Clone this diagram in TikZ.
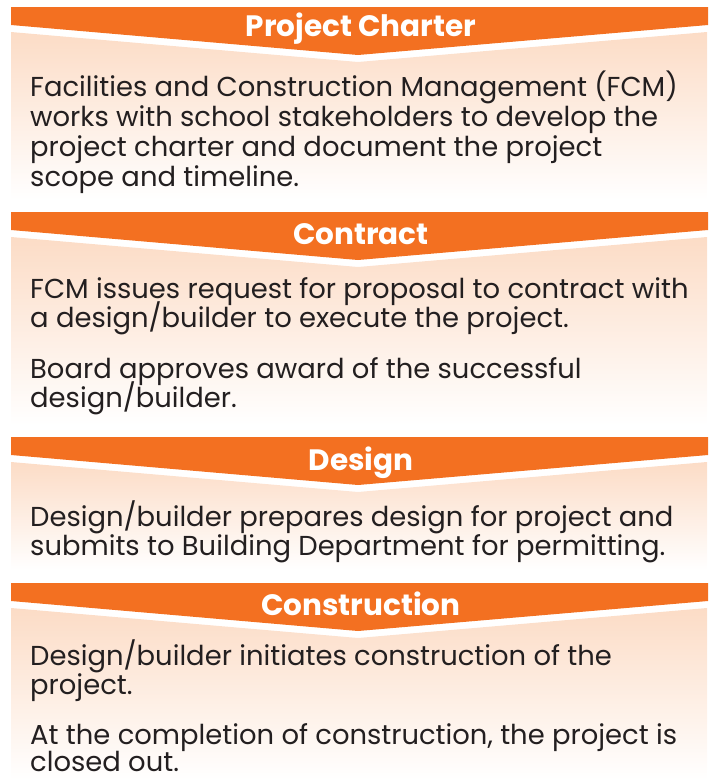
\documentclass[tikz,border=0pt]{standalone}
\usepackage{fontspec}
\setmainfont{Poppins}
\definecolor{bandorange}{RGB}{243,112,33}
\definecolor{peach}{RGB}{252,220,198}
\definecolor{bodytext}{RGB}{35,31,32}
\newcommand\bandsec[2]{%
  \shade[top color=peach, bottom color=white] (11,#1+25) -- (358,#1+55) -- (707,#1+25) -- (707,#2) -- (11,#2) -- cycle;
  \fill[bandorange] (11,#1) -- (708,#1) -- (708,#1+18) -- (358,#1+48) -- (11,#1+18) -- cycle;
}
\tikzset{
  title/.style={anchor=base, inner sep=0pt, text=white, font=\fontsize{29.5}{30}\selectfont\bfseries},
  body/.style={anchor=base west, inner sep=0pt, text=bodytext, font=\fontsize{27.4}{30}\selectfont}
}
\begin{document}
\begin{tikzpicture}[x=1pt,y=-1pt]
\useasboundingbox (0,0) rectangle (710,780);
\bandsec{7}{200}
\bandsec{212}{425}
\bandsec{437}{570}
\bandsec{583}{780}
\node[title] (t1) at (361,36) {Project Charter};
\node[title] (t2) at (361,244) {Contract};
\node[title] (t3) at (361,470) {Design};
\node[title] (t4) at (361,615) {Construction};
% section 1
\node[body] (a1) at (30,96) {Facilities and Construction Management (FCM)};
\node[body] (a2) at (30,126) {works with school stakeholders to develop the};
\node[body] (a3) at (30,156) {project charter and document the project};
\node[body] (a4) at (30,186) {scope and timeline.};
% section 2
\node[body] (b1) at (30,298) {FCM issues request for proposal to contract with};
\node[body] (b2) at (30,327) {a design/builder to execute the project.};
\node[body] (b3) at (30,378) {Board approves award of the successful};
\node[body] (b4) at (30,407) {design/builder.};
% section 3
\node[body] (c1) at (30,526) {Design/builder prepares design for project and};
\node[body] (c2) at (30,555) {submits to Building Department for permitting.};
% section 4
\node[body] (d1) at (30,665) {Design/builder initiates construction of the};
\node[body] (d2) at (30,694) {project.};
\node[body] (d3) at (30,744) {At the completion of construction, the project is};
\node[body] (d4) at (30,771) {closed out.};
\end{tikzpicture}
\end{document}
